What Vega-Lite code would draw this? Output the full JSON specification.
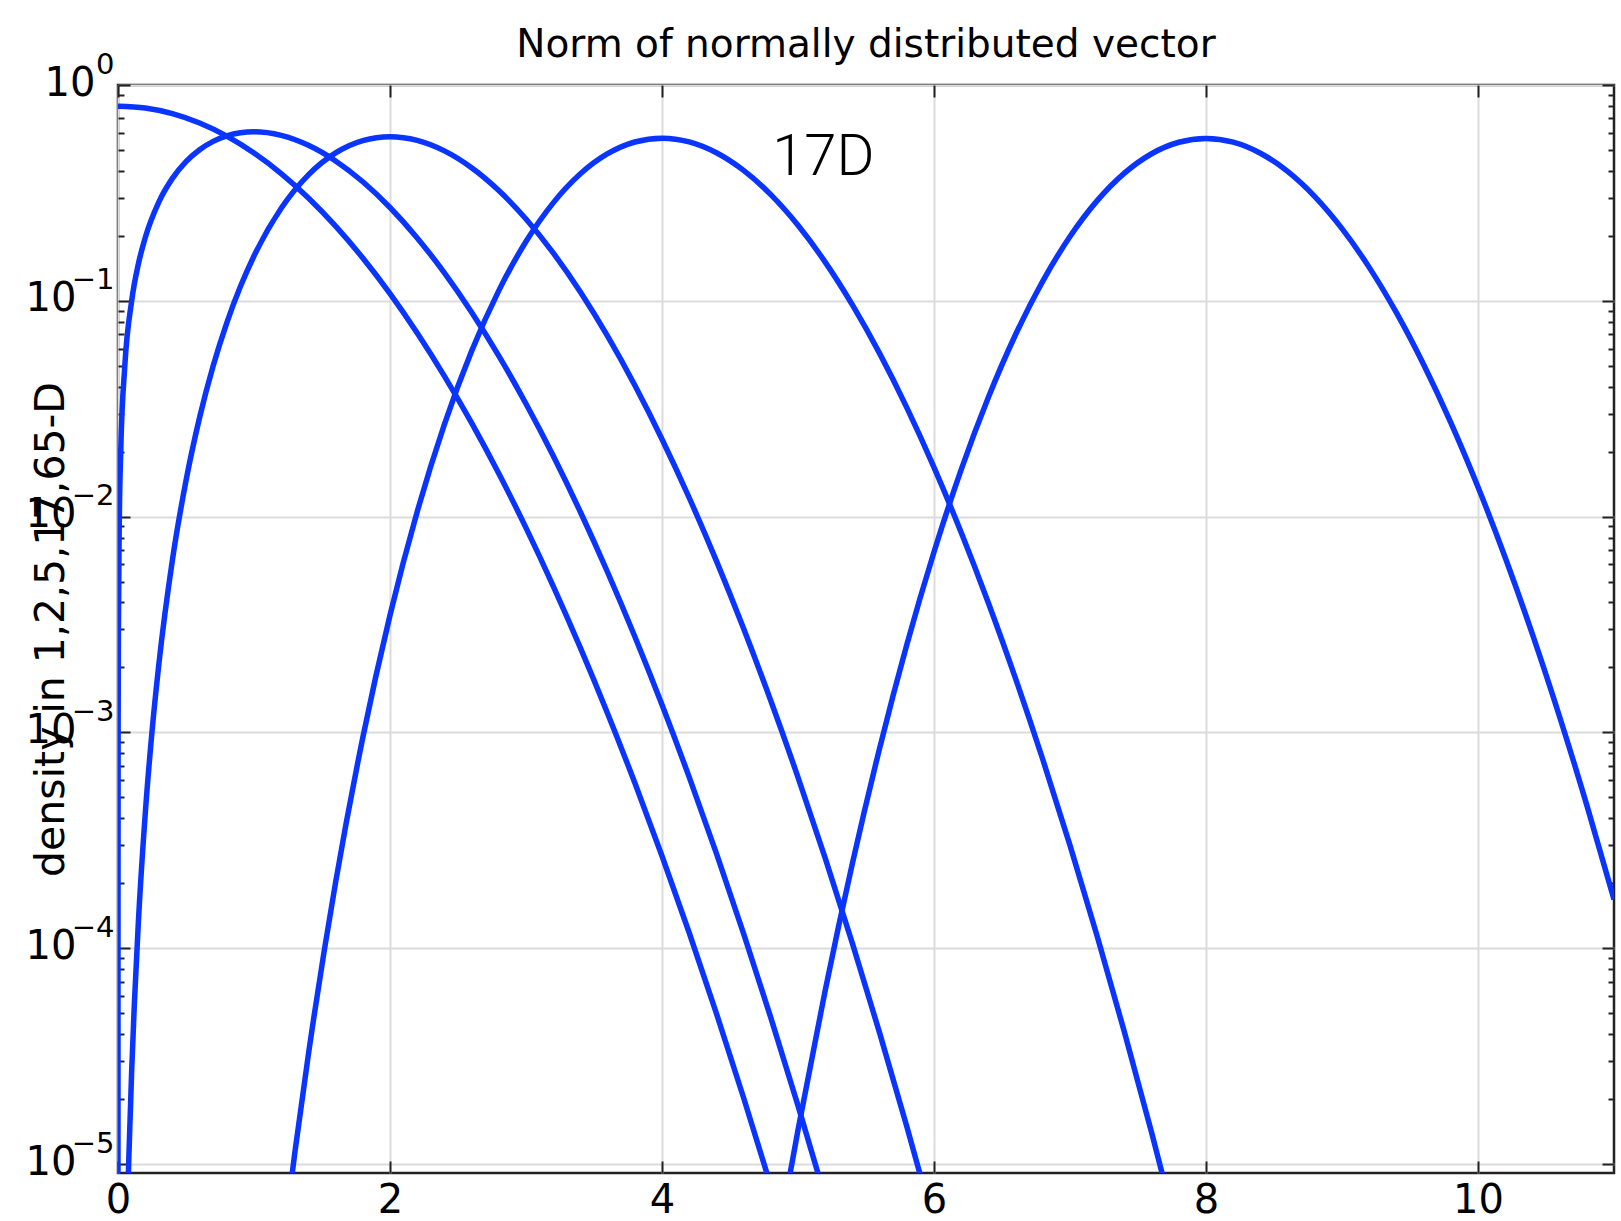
{
  "$schema": "https://vega.github.io/schema/vega-lite/v6.json",
  "width": 1496,
  "height": 1088,
  "autosize": {"type": "none"},
  "padding": {"left": 118, "top": 85, "right": 7, "bottom": 48},
  "background": "white",
  "config": {
    "view": {"stroke": "#222222", "strokeWidth": 2.5},
    "axis": {
      "labelFont": "DejaVu Sans",
      "labelFontSize": 40,
      "labelColor": "black",
      "labelFlush": false,
      "labelOverlap": false,
      "titleFont": "DejaVu Sans",
      "titleColor": "black",
      "domain": false,
      "tickColor": "#222222",
      "tickWidth": 2,
      "gridColor": "#dcdcdc",
      "gridWidth": 2
    }
  },
  "title": {
    "text": "Norm of normally distributed vector",
    "font": "DejaVu Sans",
    "fontSize": 39,
    "fontWeight": "normal",
    "color": "black",
    "anchor": "middle",
    "baseline": "alphabetic",
    "offset": 25,
    "dy": 71
  },
  "datasets": {
    "curves": [
      {"k": 1, "x": 0, "y": 0.79788},
      {"k": 1, "x": 0.2, "y": 0.78209},
      {"k": 1, "x": 0.4, "y": 0.73654},
      {"k": 1, "x": 0.6, "y": 0.66645},
      {"k": 1, "x": 0.8, "y": 0.57938},
      {"k": 1, "x": 1.0, "y": 0.48394},
      {"k": 1, "x": 1.2, "y": 0.38837},
      {"k": 1, "x": 1.4, "y": 0.29945},
      {"k": 1, "x": 1.6, "y": 0.22184},
      {"k": 1, "x": 1.8, "y": 0.1579},
      {"k": 1, "x": 2.0, "y": 0.10798},
      {"k": 1, "x": 2.2, "y": 0.070949},
      {"k": 1, "x": 2.4, "y": 0.044789},
      {"k": 1, "x": 2.6, "y": 0.027166},
      {"k": 1, "x": 2.8, "y": 0.015831},
      {"k": 1, "x": 3.0, "y": 0.0088637},
      {"k": 1, "x": 3.2, "y": 0.0047682},
      {"k": 1, "x": 3.4, "y": 0.0024645},
      {"k": 1, "x": 3.6, "y": 0.0012238},
      {"k": 1, "x": 3.8, "y": 0.00058389},
      {"k": 1, "x": 4.0, "y": 0.00026766},
      {"k": 1, "x": 4.2, "y": 0.00011789},
      {"k": 1, "x": 4.4, "y": 4.9885e-5},
      {"k": 1, "x": 4.6, "y": 2.0281e-5},
      {"k": 1, "x": 4.8, "y": 7.9226e-6},
      {"k": 2, "x": 0.000008, "y": 8e-6},
      {"k": 2, "x": 0.0001, "y": 0.0001},
      {"k": 2, "x": 0.001, "y": 0.001},
      {"k": 2, "x": 0.003, "y": 0.003},
      {"k": 2, "x": 0.01, "y": 0.0099995},
      {"k": 2, "x": 0.02, "y": 0.019996},
      {"k": 2, "x": 0.05, "y": 0.049938},
      {"k": 2, "x": 0.1, "y": 0.099501},
      {"k": 2, "x": 0.15, "y": 0.14832},
      {"k": 2, "x": 0.2, "y": 0.19604},
      {"k": 2, "x": 0.3, "y": 0.2868},
      {"k": 2, "x": 0.4, "y": 0.36925},
      {"k": 2, "x": 0.5, "y": 0.44125},
      {"k": 2, "x": 0.6, "y": 0.50116},
      {"k": 2, "x": 0.7, "y": 0.54789},
      {"k": 2, "x": 0.8, "y": 0.58092},
      {"k": 2, "x": 0.9, "y": 0.60028},
      {"k": 2, "x": 1.0, "y": 0.60653},
      {"k": 2, "x": 1.2, "y": 0.5841},
      {"k": 2, "x": 1.4, "y": 0.52544},
      {"k": 2, "x": 1.6, "y": 0.44486},
      {"k": 2, "x": 1.8, "y": 0.35622},
      {"k": 2, "x": 2.0, "y": 0.27067},
      {"k": 2, "x": 2.2, "y": 0.19563},
      {"k": 2, "x": 2.4, "y": 0.13472},
      {"k": 2, "x": 2.6, "y": 0.088522},
      {"k": 2, "x": 2.8, "y": 0.055555},
      {"k": 2, "x": 3.0, "y": 0.033327},
      {"k": 2, "x": 3.2, "y": 0.019123},
      {"k": 2, "x": 3.4, "y": 0.010502},
      {"k": 2, "x": 3.6, "y": 0.0055217},
      {"k": 2, "x": 3.8, "y": 0.0027808},
      {"k": 2, "x": 4.0, "y": 0.0013418},
      {"k": 2, "x": 4.2, "y": 0.00062055},
      {"k": 2, "x": 4.4, "y": 0.0002751},
      {"k": 2, "x": 4.6, "y": 0.00011693},
      {"k": 2, "x": 4.8, "y": 4.7662e-5},
      {"k": 2, "x": 5.0, "y": 1.8634e-5},
      {"k": 2, "x": 5.2, "y": 6.9878e-6},
      {"k": 5, "x": 0.07, "y": 6.37e-6},
      {"k": 5, "x": 0.08, "y": 1.0859e-5},
      {"k": 5, "x": 0.1, "y": 2.6463e-5},
      {"k": 5, "x": 0.12, "y": 5.4753e-5},
      {"k": 5, "x": 0.15, "y": 0.00013314},
      {"k": 5, "x": 0.2, "y": 0.00041711},
      {"k": 5, "x": 0.25, "y": 0.001007},
      {"k": 5, "x": 0.3, "y": 0.0020595},
      {"k": 5, "x": 0.4, "y": 0.0062851},
      {"k": 5, "x": 0.5, "y": 0.014669},
      {"k": 5, "x": 0.6, "y": 0.02879},
      {"k": 5, "x": 0.7, "y": 0.049981},
      {"k": 5, "x": 0.8, "y": 0.079105},
      {"k": 5, "x": 0.9, "y": 0.11639},
      {"k": 5, "x": 1.0, "y": 0.16131},
      {"k": 5, "x": 1.2, "y": 0.26844},
      {"k": 5, "x": 1.4, "y": 0.38346},
      {"k": 5, "x": 1.6, "y": 0.48462},
      {"k": 5, "x": 1.8, "y": 0.55252},
      {"k": 5, "x": 2.0, "y": 0.5759},
      {"k": 5, "x": 2.2, "y": 0.55401},
      {"k": 5, "x": 2.4, "y": 0.49533},
      {"k": 5, "x": 2.6, "y": 0.4138},
      {"k": 5, "x": 2.8, "y": 0.32435},
      {"k": 5, "x": 3.0, "y": 0.23932},
      {"k": 5, "x": 3.2, "y": 0.16666},
      {"k": 5, "x": 3.4, "y": 0.10978},
      {"k": 5, "x": 3.6, "y": 0.068517},
      {"k": 5, "x": 3.8, "y": 0.040583},
      {"k": 5, "x": 4.0, "y": 0.02284},
      {"k": 5, "x": 4.2, "y": 0.012228},
      {"k": 5, "x": 4.4, "y": 0.0062324},
      {"k": 5, "x": 4.6, "y": 0.003027},
      {"k": 5, "x": 4.8, "y": 0.0014019},
      {"k": 5, "x": 5.0, "y": 0.00061947},
      {"k": 5, "x": 5.2, "y": 0.00026131},
      {"k": 5, "x": 5.4, "y": 0.00010529},
      {"k": 5, "x": 5.6, "y": 4.0535e-5},
      {"k": 5, "x": 5.8, "y": 1.4918e-5},
      {"k": 5, "x": 6.0, "y": 5.2495e-6},
      {"k": 17, "x": 1.2, "y": 3.541e-6},
      {"k": 17, "x": 1.3, "y": 1.1251e-5},
      {"k": 17, "x": 1.4, "y": 3.2177e-5},
      {"k": 17, "x": 1.6, "y": 0.00020188},
      {"k": 17, "x": 1.8, "y": 0.00094589},
      {"k": 17, "x": 2.0, "y": 0.0034911},
      {"k": 17, "x": 2.2, "y": 0.010539},
      {"k": 17, "x": 2.4, "y": 0.026772},
      {"k": 17, "x": 2.6, "y": 0.058437},
      {"k": 17, "x": 2.8, "y": 0.11148},
      {"k": 17, "x": 3.0, "y": 0.18823},
      {"k": 17, "x": 3.2, "y": 0.28438},
      {"k": 17, "x": 3.4, "y": 0.38775},
      {"k": 17, "x": 3.6, "y": 0.48045},
      {"k": 17, "x": 3.8, "y": 0.54445},
      {"k": 17, "x": 4.0, "y": 0.56714},
      {"k": 17, "x": 4.2, "y": 0.54526},
      {"k": 17, "x": 4.4, "y": 0.48564},
      {"k": 17, "x": 4.6, "y": 0.40217},
      {"k": 17, "x": 4.8, "y": 0.31035},
      {"k": 17, "x": 5.0, "y": 0.22383},
      {"k": 17, "x": 5.2, "y": 0.15116},
      {"k": 17, "x": 5.4, "y": 0.095788},
      {"k": 17, "x": 5.6, "y": 0.057068},
      {"k": 17, "x": 5.8, "y": 0.031999},
      {"k": 17, "x": 6.0, "y": 0.016912},
      {"k": 17, "x": 6.2, "y": 0.008437},
      {"k": 17, "x": 6.4, "y": 0.0039776},
      {"k": 17, "x": 6.6, "y": 0.0017734},
      {"k": 17, "x": 6.8, "y": 0.00074879},
      {"k": 17, "x": 7.0, "y": 0.00029956},
      {"k": 17, "x": 7.2, "y": 0.00011362},
      {"k": 17, "x": 7.4, "y": 4.0907e-5},
      {"k": 17, "x": 7.6, "y": 1.3984e-5},
      {"k": 17, "x": 7.8, "y": 4.5426e-6},
      {"k": 65, "x": 4.8, "y": 2.806e-6},
      {"k": 65, "x": 4.9, "y": 6.4661e-6},
      {"k": 65, "x": 5.0, "y": 1.4362e-5},
      {"k": 65, "x": 5.2, "y": 6.3729e-5},
      {"k": 65, "x": 5.4, "y": 0.00024718},
      {"k": 65, "x": 5.6, "y": 0.00084353},
      {"k": 65, "x": 5.8, "y": 0.002549},
      {"k": 65, "x": 6.0, "y": 0.0068576},
      {"k": 65, "x": 6.2, "y": 0.016511},
      {"k": 65, "x": 6.4, "y": 0.035726},
      {"k": 65, "x": 6.6, "y": 0.069775},
      {"k": 65, "x": 6.8, "y": 0.12345},
      {"k": 65, "x": 7.0, "y": 0.19855},
      {"k": 65, "x": 7.2, "y": 0.29117},
      {"k": 65, "x": 7.4, "y": 0.39056},
      {"k": 65, "x": 7.6, "y": 0.48027},
      {"k": 65, "x": 7.8, "y": 0.54282},
      {"k": 65, "x": 8.0, "y": 0.56513},
      {"k": 65, "x": 8.2, "y": 0.54317},
      {"k": 65, "x": 8.4, "y": 0.4828},
      {"k": 65, "x": 8.6, "y": 0.39763},
      {"k": 65, "x": 8.8, "y": 0.30398},
      {"k": 65, "x": 9.0, "y": 0.216},
      {"k": 65, "x": 9.2, "y": 0.14286},
      {"k": 65, "x": 9.4, "y": 0.088081},
      {"k": 65, "x": 9.6, "y": 0.050684},
      {"k": 65, "x": 9.8, "y": 0.027256},
      {"k": 65, "x": 10.0, "y": 0.013712},
      {"k": 65, "x": 10.2, "y": 0.00646},
      {"k": 65, "x": 10.4, "y": 0.002853},
      {"k": 65, "x": 10.6, "y": 0.0011823},
      {"k": 65, "x": 10.8, "y": 0.00046016},
      {"k": 65, "x": 11.0, "y": 0.00016833}
    ],
    "annot": [{"x": 4.81, "y": 0.383, "label": "17D"}]
  },
  "layer": [
    {
      "data": {"name": "curves"},
      "mark": {"type": "line", "color": "#0a34ff", "strokeWidth": 5.5, "clip": true, "interpolate": "monotone"},
      "encoding": {
        "x": {
          "field": "x", "type": "quantitative",
          "scale": {"domain": [0, 11], "nice": false, "zero": false},
          "axis": {"orient": "bottom", "values": [0, 2, 4, 6, 8, 10], "grid": true, "title": null, "tickSize": -12, "labelPadding": 19, "format": "d"}
        },
        "y": {
          "field": "y", "type": "quantitative",
          "scale": {"type": "log", "domain": [9.085e-6, 1], "nice": false},
          "axis": {
            "orient": "left",
            "values": [0.00001, 0.0001, 0.001, 0.01, 0.1, 1],
            "grid": true,
            "tickSize": -12,
            "labelPadding": 54,
            "labelBaseline": "middle",
            "labelOffset": -2,
            "labelExpr": "datum.value > 0.5 ? '' : '10'",
            "title": "density in 1,2,5,17,65-D",
            "titleFontSize": 41,
            "titleFontWeight": "normal",
            "titleAngle": -90,
            "titleAlign": "center",
            "titleBaseline": "alphabetic",
            "titleX": -55,
            "titleY": 544
          }
        },
        "detail": {"field": "k", "type": "nominal"}
      }
    },
    {
      "data": {"name": "annot"},
      "mark": {"type": "text", "align": "left", "baseline": "alphabetic", "font": "Roboto", "fontWeight": 300, "fontSize": 58, "color": "black"},
      "encoding": {
        "x": {
          "field": "x", "type": "quantitative",
          "scale": {"domain": [0, 11], "nice": false, "zero": false},
          "axis": {"orient": "top", "values": [0, 2, 4, 6, 8, 10], "grid": false, "labels": false, "title": null, "tickSize": -12}
        },
        "y": {
          "field": "y", "type": "quantitative",
          "scale": {"type": "log", "domain": [9.085e-6, 1], "nice": false},
          "axis": {"orient": "right", "values": [0.00001, 0.0001, 0.001, 0.01, 0.1, 1], "grid": false, "labels": false, "title": null, "tickSize": -12}
        },
        "text": {"field": "label"}
      }
    },
    {
      "data": {"name": "annot"},
      "mark": {"type": "point", "opacity": 0},
      "encoding": {
        "x": {"field": "x", "type": "quantitative", "scale": {"domain": [0, 11], "nice": false, "zero": false}, "axis": null},
        "y": {
          "field": "y", "type": "quantitative",
          "scale": {"type": "log", "domain": [9.085e-6, 1], "nice": false},
          "axis": {"orient": "left", "values": [0.00002, 0.00003, 0.00004, 0.00005, 0.00006, 0.00007, 0.00008, 0.00009, 0.0002, 0.0003, 0.0004, 0.0005, 0.0006, 0.0007, 0.0008, 0.0009, 0.002, 0.003, 0.004, 0.005, 0.006, 0.007, 0.008, 0.009, 0.02, 0.03, 0.04, 0.05, 0.06, 0.07, 0.08, 0.09, 0.2, 0.3, 0.4, 0.5, 0.6, 0.7, 0.8, 0.9], "grid": false, "labels": false, "title": null, "tickSize": -6}
        }
      }
    },
    {
      "data": {"name": "annot"},
      "mark": {"type": "point", "opacity": 0},
      "encoding": {
        "x": {"field": "x", "type": "quantitative", "scale": {"domain": [0, 11], "nice": false, "zero": false}, "axis": null},
        "y": {
          "field": "y", "type": "quantitative",
          "scale": {"type": "log", "domain": [9.085e-6, 1], "nice": false},
          "axis": {"orient": "right", "values": [0.00002, 0.00003, 0.00004, 0.00005, 0.00006, 0.00007, 0.00008, 0.00009, 0.0002, 0.0003, 0.0004, 0.0005, 0.0006, 0.0007, 0.0008, 0.0009, 0.002, 0.003, 0.004, 0.005, 0.006, 0.007, 0.008, 0.009, 0.02, 0.03, 0.04, 0.05, 0.06, 0.07, 0.08, 0.09, 0.2, 0.3, 0.4, 0.5, 0.6, 0.7, 0.8, 0.9], "grid": false, "labels": false, "title": null, "tickSize": -6}
        }
      }
    },
    {
      "data": {"name": "annot"},
      "mark": {"type": "point", "opacity": 0},
      "encoding": {
        "x": {"field": "x", "type": "quantitative", "scale": {"domain": [0, 11], "nice": false, "zero": false}, "axis": null},
        "y": {
          "field": "y", "type": "quantitative",
          "scale": {"type": "log", "domain": [9.085e-6, 1], "nice": false},
          "axis": {"orient": "left", "values": [1], "grid": false, "title": null, "tickSize": -12, "tickOpacity": 0, "labelPadding": 35, "labelBaseline": "middle", "labelOffset": -2, "labelExpr": "'10'"}
        }
      }
    },
    {
      "data": {"name": "annot"},
      "mark": {"type": "point", "opacity": 0},
      "encoding": {
        "x": {"field": "x", "type": "quantitative", "scale": {"domain": [0, 11], "nice": false, "zero": false}, "axis": null},
        "y": {
          "field": "y", "type": "quantitative",
          "scale": {"type": "log", "domain": [9.085e-6, 1], "nice": false},
          "axis": {"orient": "left", "values": [0.00001, 0.0001, 0.001, 0.01, 0.1, 1], "grid": false, "title": null, "tickSize": -12, "tickOpacity": 0, "labelPadding": 16, "labelFontSize": 29, "labelBaseline": "middle", "labelOffset": -21, "labelExpr": "datum.value > 0.5 ? '0' : datum.value > 0.05 ? '−1' : datum.value > 0.005 ? '−2' : datum.value > 0.0005 ? '−3' : datum.value > 0.00005 ? '−4' : '−5'"}
        }
      }
    }
  ],
  "resolve": {"axis": {"x": "independent", "y": "independent"}}
}
